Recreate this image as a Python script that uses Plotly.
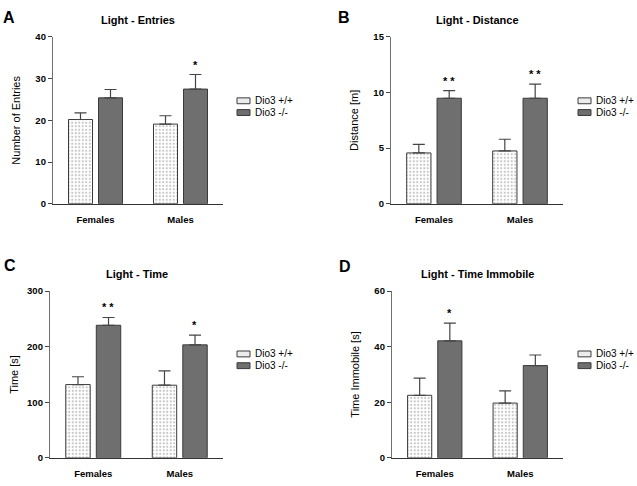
import plotly.graph_objects as go

# ---------------- data ----------------
groups = ["Females", "Males"]
genotypes = ["Dio3 +/+", "Dio3 -/-"]

entries_wt = [20.2, 19.1]
entries_wt_sem = [1.6, 2.0]
entries_ko = [25.4, 27.5]
entries_ko_sem = [2.0, 3.5]
entries_stars = ["", "*"]

distance_wt = [4.57, 4.75]
distance_wt_sem = [0.76, 1.05]
distance_ko = [9.49, 9.49]
distance_ko_sem = [0.68, 1.26]
distance_stars = ["* *", "* *"]

time_wt = [131.8, 130.7]
time_wt_sem = [14.1, 25.7]
time_ko = [238.5, 203.3]
time_ko_sem = [14.0, 17.6]
time_stars = ["* *", "*"]

immobile_wt = [22.5, 19.7]
immobile_wt_sem = [6.2, 4.4]
immobile_ko = [42.1, 33.2]
immobile_ko_sem = [6.4, 3.8]
immobile_stars = ["*", ""]

panel_titles = ["Light - Entries", "Light - Distance", "Light - Time", "Light - Time Immobile"]
panel_letters = ["A", "B", "C", "D"]
y_labels = ["Number of Entries", "Distance [m]", "Time [s]", "Time Immobile [s]"]
y_max = [40, 15, 300, 60]
y_dtick = [10, 5, 100, 20]

series = [
    (entries_wt, entries_wt_sem, entries_ko, entries_ko_sem, entries_stars),
    (distance_wt, distance_wt_sem, distance_ko, distance_ko_sem, distance_stars),
    (time_wt, time_wt_sem, time_ko, time_ko_sem, time_stars),
    (immobile_wt, immobile_wt_sem, immobile_ko, immobile_ko_sem, immobile_stars),
]

# ---------------- layout geometry (pixels) ----------------
W, H = 637, 486
def px(x):
    return x / W
def py(y):
    return 1 - y / H

geom = [
    dict(x0=53, x1=223, y0=31.7, y1=202.3, letter=(9, 12), title_y=14.7, leg=(237, 97), standoff=12),
    dict(x0=391, x1=563, y0=31.7, y1=202.3, letter=(344, 12), title_y=14.7, leg=(578, 97), standoff=12),
    dict(x0=50, x1=223, y0=291.7, y1=462.3, letter=(10, 265), title_y=274.3, leg=(237, 356), standoff=6),
    dict(x0=392, x1=563, y0=291.7, y1=462.3, letter=(345, 266.5), title_y=274.3, leg=(578, 356), standoff=12),
]

FONT = "Liberation Sans, Arial, sans-serif"
DARK = "#6f6f6f"
EDGE = "#3a3a3a"
ERRC = "#444444"

fig = go.Figure()
layout = dict(
    width=W, height=H, autosize=False,
    margin=dict(l=0, r=0, t=0, b=0),
    paper_bgcolor="white", plot_bgcolor="white",
    showlegend=False,
    barmode="group", bargap=0.294, bargroupgap=0.2,
    font=dict(family=FONT, color="black"),
)
annotations = []
shapes = []

for i, (wt, wt_sem, ko, ko_sem, stars) in enumerate(series):
    g = geom[i]
    sfx = "" if i == 0 else str(i + 1)
    xa, ya = "x" + sfx, "y" + sfx
    fig.add_trace(go.Bar(
        x=groups, y=wt, name=genotypes[0], xaxis=xa, yaxis=ya, offsetgroup="wt",
        marker=dict(color="white", line=dict(color=EDGE, width=1),
                    pattern=dict(shape=".", size=3.5, solidity=0.3, fgcolor="#8a8a8a", bgcolor="white")),
        error_y=dict(type="data", array=wt_sem, arrayminus=[0] * len(wt_sem), symmetric=False,
                     color=ERRC, thickness=1.2, width=6),
    ))
    fig.add_trace(go.Bar(
        x=groups, y=ko, name=genotypes[1], xaxis=xa, yaxis=ya, offsetgroup="ko",
        marker=dict(color=DARK, line=dict(color=EDGE, width=1)),
        error_y=dict(type="data", array=ko_sem, arrayminus=[0] * len(ko_sem), symmetric=False,
                     color=ERRC, thickness=1.2, width=6),
    ))
    layout["xaxis" + sfx] = dict(
        domain=[px(g["x0"]), px(g["x1"])], anchor=ya, type="category",
        range=[-0.5, 1.5], showline=True, linecolor="#333333", linewidth=1.3,
        ticks="outside", ticklen=7, tickcolor="rgba(0,0,0,0)", showgrid=False, zeroline=False,
        tickfont=dict(size=9.5, family=FONT, weight=700, color="black"),
    )
    layout["yaxis" + sfx] = dict(
        domain=[py(g["y1"]), py(g["y0"])], anchor=xa,
        range=[0, y_max[i]], dtick=y_dtick[i], tick0=0,
        showline=True, linecolor="#707070", linewidth=1.3,
        ticks="outside", ticklen=4, tickwidth=1.2, tickcolor="#444444",
        showgrid=False, zeroline=False,
        tickfont=dict(size=9.5, family=FONT, weight=700, color="black"),
        title=dict(text=y_labels[i], font=dict(size=11, family=FONT, color="black"), standoff=g["standoff"]),
    )
    # title
    annotations.append(dict(
        text=panel_titles[i], xref="paper", yref="paper",
        x=px((g["x0"] + g["x1"]) / 2), y=py(g["title_y"]), xanchor="center", yanchor="middle",
        showarrow=False, font=dict(size=11, family=FONT, weight=700, color="black"),
    ))
    # panel letter
    annotations.append(dict(
        text=panel_letters[i], xref="paper", yref="paper",
        x=px(g["letter"][0]), y=py(g["letter"][1]), xanchor="center", yanchor="middle",
        showarrow=False, font=dict(size=16, family=FONT, weight=700, color="black"),
    ))
    # significance stars over the -/- bars
    for gi, s in enumerate(stars):
        if s:
            annotations.append(dict(
                text=s, xref=xa, yref=ya, x=groups[gi], y=ko[gi] + ko_sem[gi],
                xshift=15, yshift=10, xanchor="center", yanchor="middle", showarrow=False,
                font=dict(size=11, family=FONT, weight=700, color="black"),
            ))
    # legend (manual)
    lx, ly = g["leg"]
    for k, name in enumerate(genotypes):
        cy = ly + 12 * k
        shapes.append(dict(
            type="rect", xref="paper", yref="paper",
            x0=px(lx), x1=px(lx + 13), y0=py(cy + 3), y1=py(cy - 3),
            fillcolor="#ececec" if k == 0 else DARK, line=dict(color=EDGE, width=1),
        ))
        annotations.append(dict(
            text=name, xref="paper", yref="paper", x=px(lx + 16), y=py(cy),
            xanchor="left", yanchor="middle", showarrow=False,
            font=dict(size=10, family=FONT, color="black"),
        ))

layout["annotations"] = annotations
layout["shapes"] = shapes
fig.update_layout(**layout)
fig.write_html("out.html", config={"displayModeBar": False},
               post_script="document.body.style.margin='0';document.body.style.padding='0';")
